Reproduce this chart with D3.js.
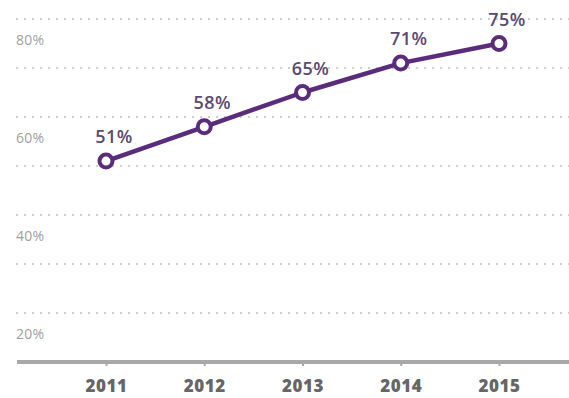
<!DOCTYPE html>
<html>
<head>
<meta charset="utf-8">
<script src="https://cdn.jsdelivr.net/npm/d3@7"></script>
<style>
  html, body { margin: 0; padding: 0; background: #fff; }
  svg { display: block; }
</style>
</head>
<body>
<svg id="chart" width="569" height="398"></svg>
<script>
// Share by year
const years = ["2011", "2012", "2013", "2014", "2015"];
const shares = [51, 58, 65, 71, 75];
// Gridlines and left-hand tick labels
const gridValues = [80, 70, 60, 50, 40, 30, 20];
const tickLabels = [80, 60, 40, 20];

const W = 569, H = 398;
const svg = d3.select("#chart");

const x = d3.scalePoint().domain(years).range([106, 499]);
const y = d3.scaleLinear().domain([10, 80]).range([362, 19]);

const purple = "#5a2c7c";
const font = "'Open Sans', 'DejaVu Sans', sans-serif";

// dotted horizontal gridlines
svg.append("g")
  .selectAll("line")
  .data(gridValues)
  .join("line")
  .attr("x1", 16).attr("x2", W)
  .attr("y1", d => y(d)).attr("y2", d => y(d))
  .attr("stroke", "#cfcfcf")
  .attr("stroke-width", 2)
  .attr("stroke-dasharray", "2,6");

// y labels sit just below their gridline
svg.append("g")
  .selectAll("text")
  .data(tickLabels)
  .join("text")
  .attr("x", 16)
  .attr("y", d => y(d) + 26)
  .attr("fill", "#a0a0a0")
  .attr("font-family", font)
  .attr("font-size", 14)
  .attr("letter-spacing", 0.3)
  .text(d => d + "%");

// baseline axis with year ticks
const xAxis = d3.axisBottom(x).tickSize(4).tickPadding(14).tickFormat(d => d);
const gx = svg.append("g").attr("transform", `translate(0,${y(10)})`).call(xAxis);
gx.select(".domain").remove();
gx.selectAll(".tick line").attr("stroke", "#a8a8a8").attr("stroke-width", 2);
gx.selectAll(".tick text")
  .attr("fill", "#666")
  .attr("font-family", font)
  .attr("font-weight", 800)
  .attr("font-size", 17)
  .attr("letter-spacing", 0.5);
svg.append("line")
  .attr("x1", 17).attr("x2", W)
  .attr("y1", y(10)).attr("y2", y(10))
  .attr("stroke", "#a8a8a8")
  .attr("stroke-width", 4);

// line
const line = d3.line()
  .x((d, i) => x(years[i]))
  .y(d => y(d));
svg.append("path")
  .datum(shares)
  .attr("d", line)
  .attr("fill", "none")
  .attr("stroke", purple)
  .attr("stroke-width", 4.5)
  .attr("stroke-linejoin", "round");

// hollow markers
svg.append("g")
  .selectAll("circle")
  .data(shares)
  .join("circle")
  .attr("cx", (d, i) => x(years[i]))
  .attr("cy", d => y(d))
  .attr("r", 6.5)
  .attr("fill", "#fff")
  .attr("stroke", purple)
  .attr("stroke-width", 4);

// value labels
svg.append("g")
  .selectAll("text")
  .data(shares)
  .join("text")
  .attr("x", (d, i) => x(years[i]) + 8)
  .attr("y", d => y(d) - 18)
  .attr("text-anchor", "middle")
  .attr("fill", "#5b4a70")
  .attr("font-family", font)
  .attr("font-weight", 600)
  .attr("font-size", 18)
  .attr("letter-spacing", 0.5)
  .text(d => d + "%");
</script>
</body>
</html>
